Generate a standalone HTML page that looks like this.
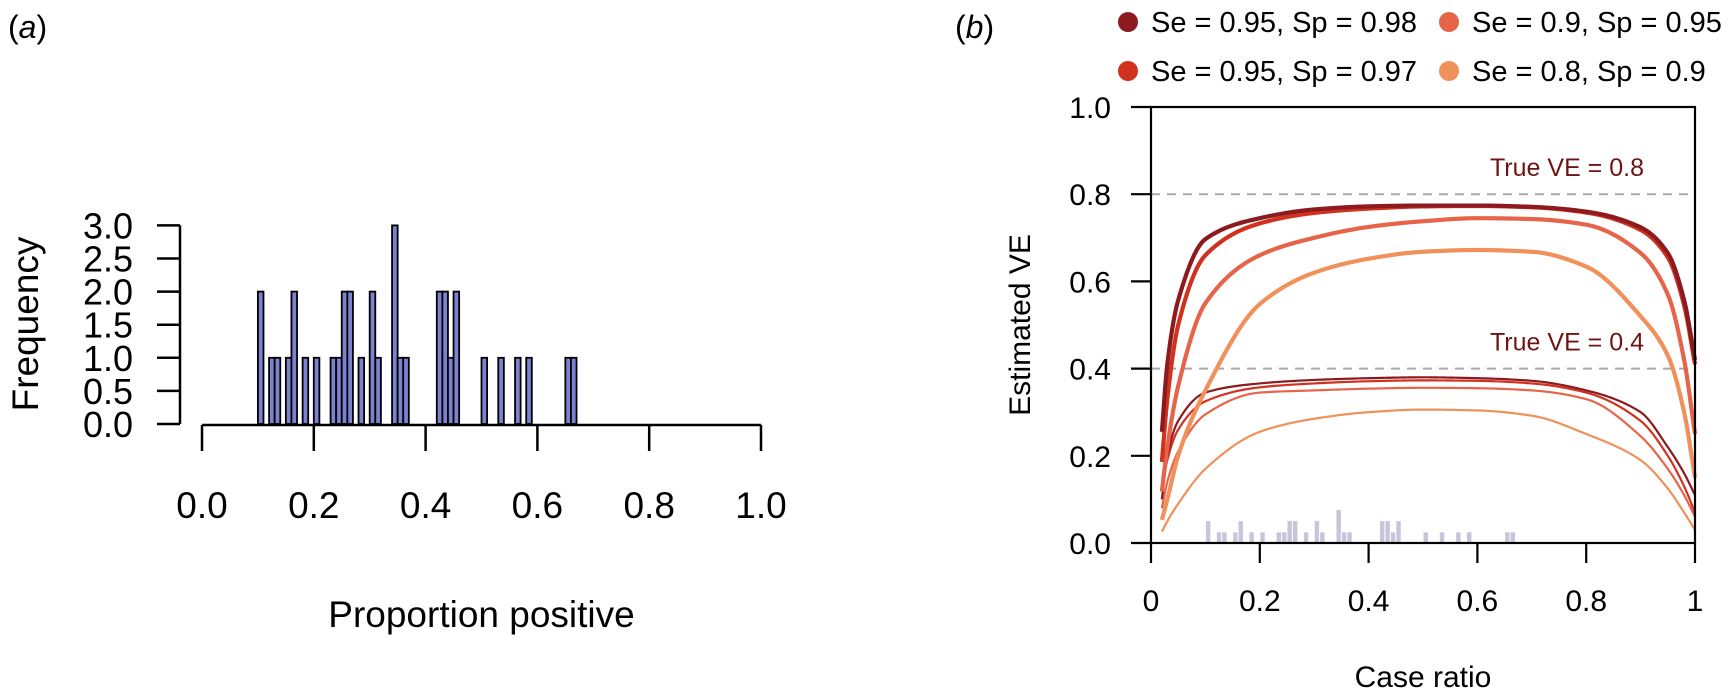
<!DOCTYPE html>
<html><head><meta charset="utf-8">
<style>
html,body{margin:0;padding:0;background:#fff;}
svg{display:block;font-family:"Liberation Sans",Arial,sans-serif;}
</style></head>
<body>
<svg id="fig" width="1729" height="699" viewBox="0 0 1729 699" xmlns="http://www.w3.org/2000/svg">
<text x="8" y="38" font-size="32">(<tspan font-style="italic">a</tspan>)</text>
<text x="955" y="38" font-size="32">(<tspan font-style="italic">b</tspan>)</text>
<g id="left"></g>
<g id="right"></g>
<g id="legend"></g>
</svg>
<script>
// ---- data ----
var histBins = [0.10,0.12,0.13,0.15,0.16,0.18,0.20,0.23,0.24,0.25,0.26,0.28,0.30,0.31,0.34,0.35,0.36,0.42,0.43,0.44,0.45,0.50,0.53,0.56,0.58,0.65,0.66];
var histCounts = [2,1,1,1,2,1,1,1,1,2,2,1,2,1,3,1,1,2,2,1,2,1,1,1,1,1,1];
var binWidth = 0.01;
var leftXTicks = ["0.0","0.2","0.4","0.6","0.8","1.0"];
var leftYTicks = ["0.0","0.5","1.0","1.5","2.0","2.5","3.0"];
var rightXTicks = ["0","0.2","0.4","0.6","0.8","1"];
var rightYTicks = ["0.0","0.2","0.4","0.6","0.8","1.0"];
var caseRatio = [0.02,0.03,0.05,0.1,0.2,0.3,0.4,0.5,0.6,0.7,0.8,0.9,0.95,0.98,1.0];
var ve08_se95sp98 = [0.255,0.41,0.557,0.697,0.745,0.765,0.772,0.774,0.774,0.771,0.76,0.724,0.665,0.557,0.42];
var ve08_se95sp97 = [0.186,0.33,0.5,0.66,0.733,0.757,0.767,0.772,0.773,0.77,0.758,0.718,0.655,0.545,0.41];
var ve08_se90sp95 = [0.118,0.22,0.36,0.55,0.66,0.70,0.725,0.738,0.745,0.743,0.73,0.665,0.57,0.42,0.25];
var ve08_se80sp90 = [0.053,0.1,0.2,0.35,0.548,0.62,0.652,0.668,0.672,0.668,0.634,0.52,0.43,0.3,0.15];
var ve04_se95sp98 = [0.1,0.2,0.28,0.345,0.366,0.374,0.378,0.38,0.378,0.372,0.35,0.3,0.22,0.16,0.11];
var ve04_se95sp97 = [0.12,0.19,0.26,0.325,0.357,0.366,0.371,0.373,0.372,0.366,0.345,0.28,0.2,0.13,0.07];
var ve04_se90sp95 = [0.08,0.14,0.21,0.295,0.345,0.35,0.354,0.356,0.355,0.35,0.33,0.245,0.17,0.11,0.06];
var ve04_se80sp90 = [0.026,0.05,0.09,0.17,0.255,0.285,0.3,0.306,0.304,0.292,0.25,0.19,0.125,0.07,0.03];
var trueVE = [0.8,0.4];
var trueVELabels = ["True VE = 0.8","True VE = 0.4"];
var legendLabels = ["Se = 0.95, Sp = 0.98","Se = 0.9, Sp = 0.95","Se = 0.95, Sp = 0.97","Se = 0.8, Sp = 0.9"];
var miniHistScale = 0.0257;

var NS="http://www.w3.org/2000/svg";
function mk(tag,attrs,parent){var e=document.createElementNS(NS,tag);for(var k in attrs)e.setAttribute(k,attrs[k]);parent.appendChild(e);return e;}

// ---- left panel ----
var L=document.getElementById('left');
function lx(v){return 202+v*559;}
function ly(v){return 424-v*66.2;}
mk('line',{x1:lx(0),y1:425,x2:lx(1),y2:425,stroke:'#000','stroke-width':2.5},L);
leftXTicks.forEach(function(t,i){
  var v=i*0.2;
  var tk=mk('line',{x1:lx(v),y1:425,x2:lx(v),y2:451,stroke:'#000','stroke-width':2.5},L);
  
  
  var tx=mk('text',{x:lx(v),y:518,'font-size':37,'text-anchor':'middle'},L);tx.textContent=t;
  
  
});
mk('line',{x1:180,y1:ly(0),x2:180,y2:ly(3),stroke:'#000','stroke-width':2.5},L);
leftYTicks.forEach(function(t,i){
  var v=i*0.5;
  var tk=mk('line',{x1:157,y1:ly(v),x2:180,y2:ly(v),stroke:'#000','stroke-width':2.5},L);
  
  
  var tx=mk('text',{x:133,y:ly(v)+13,'font-size':36,'text-anchor':'end'},L);tx.textContent=t;
  
  
});
histBins.forEach(function(b,i){
  var r=mk('rect',{x:lx(b),y:ly(histCounts[i]),width:lx(b+binWidth)-lx(b),height:ly(0)-ly(histCounts[i]),fill:'#7b82cf',stroke:'#000','stroke-width':1.8},L);
  
  
});
var xt=mk('text',{x:lx(0.5),y:627,'font-size':37,'text-anchor':'middle'},L);xt.textContent='Proportion positive';


var yt=mk('text',{x:0,y:0,'font-size':37,'text-anchor':'middle',transform:'translate(38,324) rotate(-90)'},L);yt.textContent='Frequency';



// ---- right panel ----
var R=document.getElementById('right');
function rx(v){return 1151+v*544;}
function ry(v){return 543-v*436;}
histBins.forEach(function(b,i){
  var r=mk('rect',{x:rx(b),y:ry(histCounts[i]*miniHistScale),width:rx(b+binWidth)-rx(b),height:ry(0)-ry(histCounts[i]*miniHistScale),fill:'#c6c6da',stroke:'#fff','stroke-width':1},R);
  
  
});
trueVE.forEach(function(v,i){
  var d=mk('line',{x1:rx(0),y1:ry(v),x2:rx(1),y2:ry(v),stroke:'#aaa','stroke-width':2,'stroke-dasharray':'9,7'},R);
  
  
  var t=mk('text',{x:1644,y:ry(v)-18,'font-size':25,'text-anchor':'end',fill:'#6e1414'},R);t.textContent=trueVELabels[i];
  
  
});
// monotone cubic (Fritsch-Carlson) interpolation in data space, sampled densely
function pathFor(ys){
  var xs=caseRatio,n=xs.length,d=[],m=[];
  for(var i=0;i<n-1;i++)d.push((ys[i+1]-ys[i])/(xs[i+1]-xs[i]));
  m[0]=d[0];m[n-1]=d[n-2];
  for(var i=1;i<n-1;i++){
    if(d[i-1]*d[i]<=0)m[i]=0;
    else{var w1=2*(xs[i+1]-xs[i])+(xs[i]-xs[i-1]),w2=(xs[i+1]-xs[i])+2*(xs[i]-xs[i-1]);m[i]=(w1+w2)/(w1/d[i-1]+w2/d[i]);}
  }
  var s='M'+rx(xs[0]).toFixed(2)+','+ry(ys[0]).toFixed(2);
  for(var i=0;i<n-1;i++){
    var h=xs[i+1]-xs[i],steps=20;
    for(var k=1;k<=steps;k++){
      var t=k/steps,t2=t*t,t3=t2*t;
      var y=(2*t3-3*t2+1)*ys[i]+(t3-2*t2+t)*h*m[i]+(-2*t3+3*t2)*ys[i+1]+(t3-t2)*h*m[i+1];
      s+=' L'+rx(xs[i]+t*h).toFixed(2)+','+ry(y).toFixed(2);
    }
  }
  return s;
}
var cols=['#8c1a1f','#d1321f','#e5644a','#f0905a'];
var series=[[ve04_se80sp90,3,2.2],[ve04_se90sp95,2,2.2],[ve04_se95sp97,1,2.2],[ve04_se95sp98,0,2.2],
            [ve08_se80sp90,3,4.2],[ve08_se90sp95,2,4.2],[ve08_se95sp97,1,4.2],[ve08_se95sp98,0,4.2]];
series.forEach(function(s){
  var pe=mk('path',{d:pathFor(s[0]),fill:'none',stroke:cols[s[1]],'stroke-width':s[2],'stroke-linejoin':'round'},R);
  
  
});
mk('rect',{x:rx(0),y:ry(1),width:rx(1)-rx(0),height:ry(0)-ry(1),fill:'none',stroke:'#000','stroke-width':2.2},R);
rightXTicks.forEach(function(t,i){
  var v=i*0.2;
  var tk=mk('line',{x1:rx(v),y1:543,x2:rx(v),y2:563,stroke:'#000','stroke-width':2.2},R);
  
  
  var tx=mk('text',{x:rx(v),y:611,'font-size':30,'text-anchor':'middle'},R);tx.textContent=t;
  
  
});
rightYTicks.forEach(function(t,i){
  var v=i*0.2;
  var tk=mk('line',{x1:1131,y1:ry(v),x2:1151,y2:ry(v),stroke:'#000','stroke-width':2.2},R);
  
  
  var tx=mk('text',{x:1111,y:ry(v)+11,'font-size':30,'text-anchor':'end'},R);tx.textContent=t;
  
  
});
var xt2=mk('text',{x:rx(0.5),y:687,'font-size':30,'text-anchor':'middle'},R);xt2.textContent='Case ratio';


var yt2=mk('text',{x:0,y:0,'font-size':30,'text-anchor':'middle',transform:'translate(1030,325) rotate(-90)'},R);yt2.textContent='Estimated VE';



// ---- legend ----
var G=document.getElementById('legend');
var legCols=['#8c1a1f','#e5644a','#d1321f','#f0905a'];
legendLabels.forEach(function(t,i){
  var cx=(i%2===0)?1128:1449, cy=(i<2)?22:71;
  var c=mk('circle',{cx:cx,cy:cy,r:10,fill:legCols[i]},G);
  
  
  var tx=mk('text',{x:cx+23,y:cy+10,'font-size':29},G);tx.textContent=t;
  
  
});
</script>
</body></html>
